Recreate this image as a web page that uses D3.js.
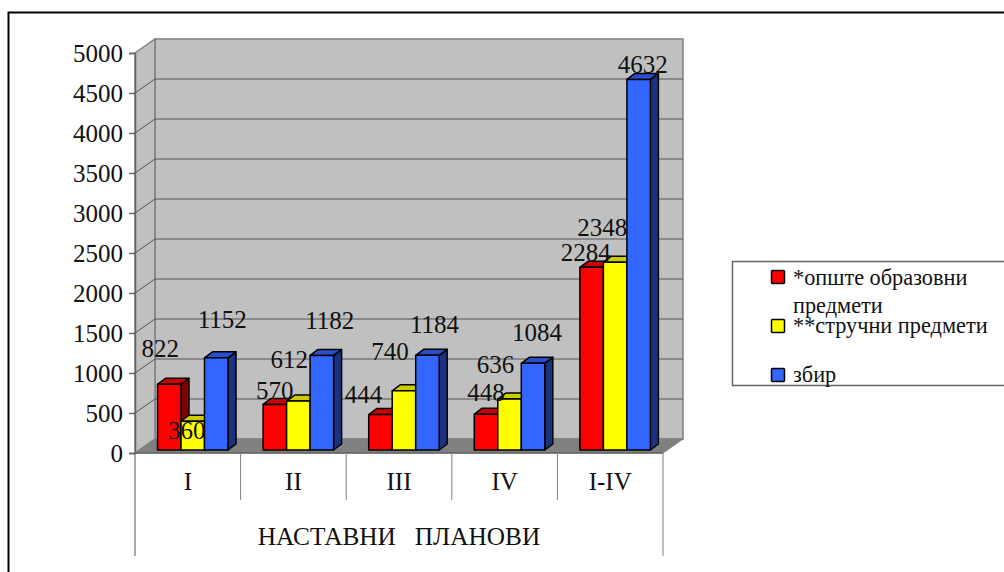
<!DOCTYPE html>
<html>
<head>
<meta charset="utf-8">
<script src="https://cdn.jsdelivr.net/npm/d3@7"></script>
<style>
  html, body { margin: 0; padding: 0; background: #fff; }
  svg { display: block; }
  text { font-family: "Liberation Serif", serif; fill: #111; }
</style>
</head>
<body>
<div id="chart"></div>
<script>
// Data
const categories = ["I", "II", "III", "IV", "I-IV"];
const seriesNames = ["opste", "strucni", "zbir"];
const opste = [822, 570, 444, 448, 2284];
const strucni = [360, 612, 740, 636, 2348];
const zbir = [1152, 1182, 1184, 1084, 4632];
const yTicks = [0, 500, 1000, 1500, 2000, 2500, 3000, 3500, 4000, 4500, 5000];
const axisTitle = "НАСТАВНИ   ПЛАНОВИ";
const legendLines = ["*опште образовни", "предмети", "**стручни предмети", "збир"];

const width = 1004, height = 572;
const wallDx = 20, wallDy = -14; // depth of the chart box
const barDx = 8, barDy = -6;     // depth of one bar

const colors = {
  opste:   { front: "#ff0000", top: "#cc0000", side: "#800000" },
  strucni: { front: "#ffff00", top: "#cccc00", side: "#808000" },
  zbir:    { front: "#3366ff", top: "#2850cc", side: "#1a3380" }
};
const values = { opste, strucni, zbir };

// the labels were placed by hand in the original, so each one has its own nudge from the bar top
const labelNudge = {
  opste:   { dx: [-9, 0, -17, 0, -6],    dy: [-27, -5, -11, -13, -6] },
  strucni: { dx: [-6, -9, -14, -14, -13], dy: [18, -33, -31, -26, -26] },
  zbir:    { dx: [6, 8, 7, 4, 4],         dy: [-30, -26, -22, -22, -6] }
};

const svg = d3.select("#chart").append("svg")
  .attr("width", width)
  .attr("height", height);

const x = d3.scaleBand().domain(categories).range([135, 663]);
const y = d3.scaleLinear().domain([0, 5000]).range([453, 53]);
const inner = d3.scaleBand().domain(seriesNames).range([22.5, 93]);

// outer frame, open to the right and bottom edges of the picture
svg.append("path")
  .attr("d", `M8.5,572V12.5H${width}`)
  .attr("fill", "none").attr("stroke", "#000").attr("stroke-width", 2);

const poly = pts => pts.map(p => p.join(",")).join(" ");
const x0 = x.range()[0], x1 = x.range()[1];
const yBase = y(0), yTop = y(5000);

// walls and floor
svg.append("polygon")
  .attr("points", poly([[x0 + wallDx, yTop + wallDy], [x1 + wallDx, yTop + wallDy], [x1 + wallDx, yBase + wallDy], [x0 + wallDx, yBase + wallDy]]))
  .attr("fill", "#c0c0c0").attr("stroke", "#808080").attr("stroke-width", 1.5);
svg.append("polygon")
  .attr("points", poly([[x0, yTop], [x0 + wallDx, yTop + wallDy], [x0 + wallDx, yBase + wallDy], [x0, yBase]]))
  .attr("fill", "#c0c0c0").attr("stroke", "#808080").attr("stroke-width", 1.5);
svg.append("polygon")
  .attr("points", poly([[x0, yBase], [x0 + wallDx, yBase + wallDy], [x1 + wallDx, yBase + wallDy], [x1, yBase]]))
  .attr("fill", "#808080").attr("stroke", "#808080");

// gridlines on both walls
svg.append("g").selectAll("path")
  .data(yTicks.filter(d => d > 0 && d < 5000))
  .join("path")
  .attr("d", d => `M${x0},${y(d)}L${x0 + wallDx},${y(d) + wallDy}H${x1 + wallDx}`)
  .attr("fill", "none").attr("stroke", "#555").attr("stroke-width", 1);

// y axis
const yAxis = svg.append("g")
  .attr("transform", `translate(${x0},0)`)
  .call(d3.axisLeft(y).tickValues(yTicks).tickSize(6).tickPadding(6).tickFormat(d3.format("d")));
yAxis.selectAll("text").attr("font-size", 25).attr("fill", "#111");
yAxis.selectAll("line, path").attr("stroke", "#666").attr("stroke-width", 1.5);

// category table under the plot
const seps = svg.append("g").attr("stroke", "#808080").attr("stroke-width", 1);
seps.append("line").attr("x1", x0).attr("x2", x1).attr("y1", yBase).attr("y2", yBase).attr("stroke", "#666").attr("stroke-width", 1.5);
seps.selectAll(".sep").data(categories.slice(1)).join("line")
  .attr("x1", d => x(d)).attr("x2", d => x(d)).attr("y1", yBase).attr("y2", 500);
seps.append("line").attr("x1", x0).attr("x2", x0).attr("y1", yBase).attr("y2", 556).attr("stroke", "#555");
seps.append("line").attr("x1", x1).attr("x2", x1).attr("y1", yBase).attr("y2", 556);

svg.append("g").selectAll("text").data(categories).join("text")
  .attr("x", d => x(d) + x.bandwidth() / 2)
  .attr("y", 490)
  .attr("text-anchor", "middle")
  .attr("font-size", 25)
  .text(d => d);

svg.append("text")
  .attr("x", 399).attr("y", 545)
  .attr("text-anchor", "middle")
  .attr("font-size", 25.3)
  .style("white-space", "pre")
  .text(axisTitle);

// bars
const barFloor = y(0) - 3;
const rows = [];
categories.forEach((c, i) => seriesNames.forEach(s => rows.push({ c, s, i, v: values[s][i] })));

const bars = svg.append("g").selectAll("g").data(rows).join("g");
const bx = d => x(d.c) + inner(d.s);
const by = d => barFloor - (y(0) - y(d.v));
const bw = inner.bandwidth();

bars.append("polygon") // side
  .attr("points", d => poly([[bx(d) + bw, by(d)], [bx(d) + bw + barDx, by(d) + barDy], [bx(d) + bw + barDx, barFloor + barDy], [bx(d) + bw, barFloor]]))
  .attr("fill", d => colors[d.s].side);
bars.append("polygon") // top
  .attr("points", d => poly([[bx(d), by(d)], [bx(d) + barDx, by(d) + barDy], [bx(d) + bw + barDx, by(d) + barDy], [bx(d) + bw, by(d)]]))
  .attr("fill", d => colors[d.s].top);
bars.append("rect") // front
  .attr("x", bx).attr("y", by).attr("width", bw).attr("height", d => barFloor - by(d))
  .attr("fill", d => colors[d.s].front);
bars.selectAll("polygon, rect")
  .attr("stroke", "#000").attr("stroke-width", 1.5).attr("stroke-linejoin", "round");

// value labels
svg.append("g").selectAll("text").data(rows).join("text")
  .attr("x", d => bx(d) + bw / 2 + labelNudge[d.s].dx[d.i])
  .attr("y", d => by(d) + labelNudge[d.s].dy[d.i])
  .attr("text-anchor", "middle")
  .attr("font-size", 25)
  .text(d => d.v);

// legend
const lx = 732;
svg.append("path")
  .attr("d", `M${width},261.5H${lx + 0.5}V385.5H${width}`)
  .attr("fill", "none").attr("stroke", "#666").attr("stroke-width", 1.5);
const legendY = d3.scalePoint().domain(seriesNames).range([277, 375]);
svg.append("g").selectAll("rect").data(seriesNames).join("rect")
  .attr("x", 771.5).attr("y", d => legendY(d) - 6.5)
  .attr("width", 13).attr("height", 13).attr("rx", 1)
  .attr("fill", d => colors[d].front).attr("stroke", "#000").attr("stroke-width", 1.5);
const legendBase = [285, 313, 333, 382];
svg.append("g").selectAll("text").data(legendLines).join("text")
  .attr("x", 793)
  .attr("y", (d, i) => legendBase[i])
  .attr("font-size", 22.3)
  .text(d => d);
</script>
</body>
</html>
